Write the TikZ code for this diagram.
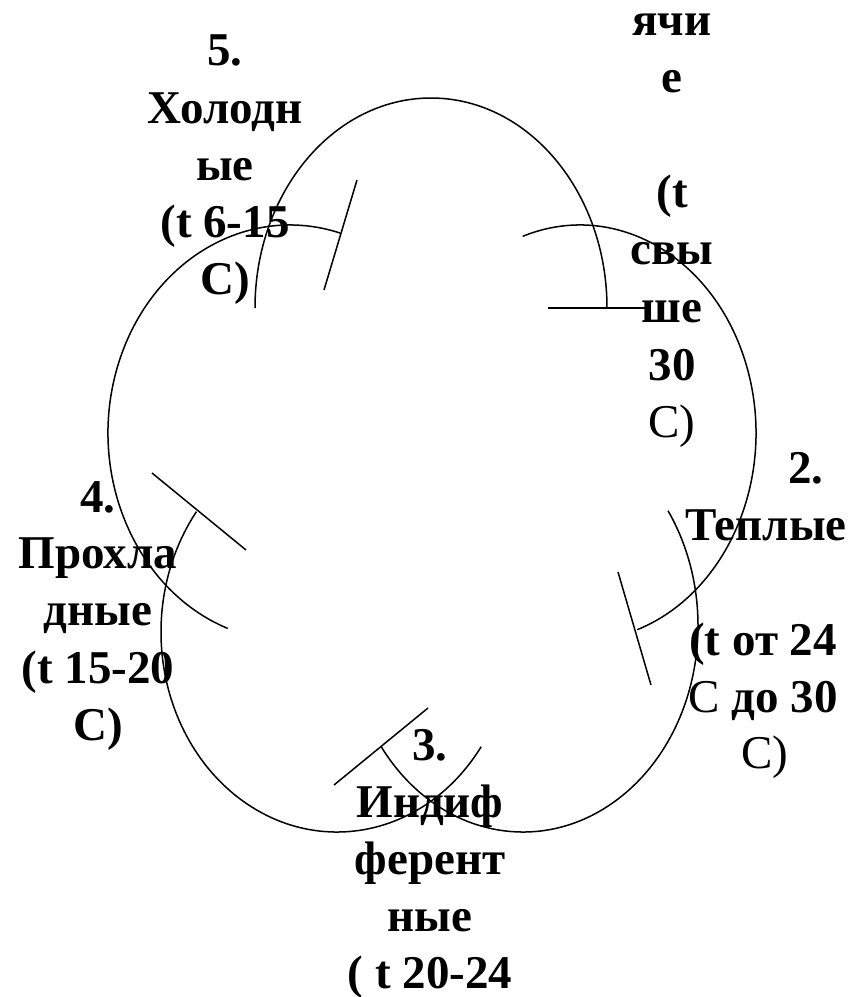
\documentclass[tikz,border=0pt]{standalone}
\usepackage{fontspec}
\setmainfont{Liberation Serif}
\begin{document}
\begin{tikzpicture}[x=1pt,y=-1pt,
  lobe/.style={line width=1.5pt,black},
  tick/.style={line width=1.5pt,black},
  txt/.style={font=\fontsize{47}{57}\selectfont\bfseries,anchor=base,inner sep=0pt},
  txtr/.style={font=\fontsize{47}{57}\selectfont\mdseries,anchor=base,inner sep=0pt}]
\useasboundingbox (0,0) rectangle (850,997);
\clip (0,0) rectangle (850,997);
% petals (elliptical arcs)
\draw[lobe] (431,308) ++(-180:176 and 210) arc[start angle=-180,end angle=0,x radius=176,y radius=210];
\draw[lobe] (580,433) ++(-109:176 and 208) arc[start angle=-109,end angle=71,x radius=176,y radius=208];
\draw[lobe] (523,626) ++(-34:175 and 206) arc[start angle=-34,end angle=144,x radius=175,y radius=206];
\draw[lobe] (337,632) ++(35:176 and 200) arc[start angle=35,end angle=217,x radius=176,y radius=200];
\draw[lobe] (290,433) ++(-250:182 and 208) arc[start angle=-250,end angle=-74,x radius=182,y radius=208];
% ticks
\coordinate (t1a) at (548,308); \coordinate (t1b) at (645,308);
\coordinate (t2a) at (618,572); \coordinate (t2b) at (651,685);
\coordinate (t3a) at (334,785); \coordinate (t3b) at (428,708);
\coordinate (t4a) at (152,473); \coordinate (t4b) at (246,550);
\coordinate (t5a) at (357,180); \coordinate (t5b) at (324,290);
\draw[tick] (t1a) -- (t1b);
\draw[tick] (t2a) -- (t2b);
\draw[tick] (t3a) -- (t3b);
\draw[tick] (t4a) -- (t4b);
\draw[tick] (t5a) -- (t5b);
% block 1 (top right)
\node[txt] (a1) at (672,35) {ячи};
\node[txt] (a2) at (672,92) {е};
\node[txt] (a3) at (672,207) {(t};
\node[txt] (a4) at (672,264) {свы};
\node[txt] (a5) at (672,322) {ше};
\node[txt] (a6) at (672,380) {30};
\node[txtr] (a7) at (672,437) {С)};
% block 2 (right)
\node[txt] (b1) at (806,483) {2.};
\node[txt] (b2) at (766,540) {Теплые};
\node[txt] (b3) at (763,655) {(t от 24};
\node[txt] (b4) at (763,712) {{\mdseries С} до 30};
\node[txtr] (b5) at (765,768) {С)};
% block 3 (bottom)
\node[txt] (c1) at (430,760) {3.};
\node[txt] (c2) at (430,817) {Индиф};
\node[txt] (c3) at (430,874) {ферент};
\node[txt] (c4) at (430,931) {ные};
\node[txt] (c5) at (430,988) {( t 20-24};
% block 4 (left)
\node[txt] (d1) at (98,512) {4.};
\node[txt] (d2) at (98,568) {Прохла};
\node[txt] (d3) at (98,625) {дные};
\node[txt] (d4) at (98,683) {(t 15-20};
\node[txt] (d5) at (98,740) {С)};
% block 5 (top left)
\node[txt] (e1) at (225,65) {5.};
\node[txt] (e2) at (225,123) {Холодн};
\node[txt] (e3) at (225,180) {ые};
\node[txt] (e4) at (225,237) {(t 6-15};
\node[txt] (e5) at (225,294) {С)};
\end{tikzpicture}
\end{document}
